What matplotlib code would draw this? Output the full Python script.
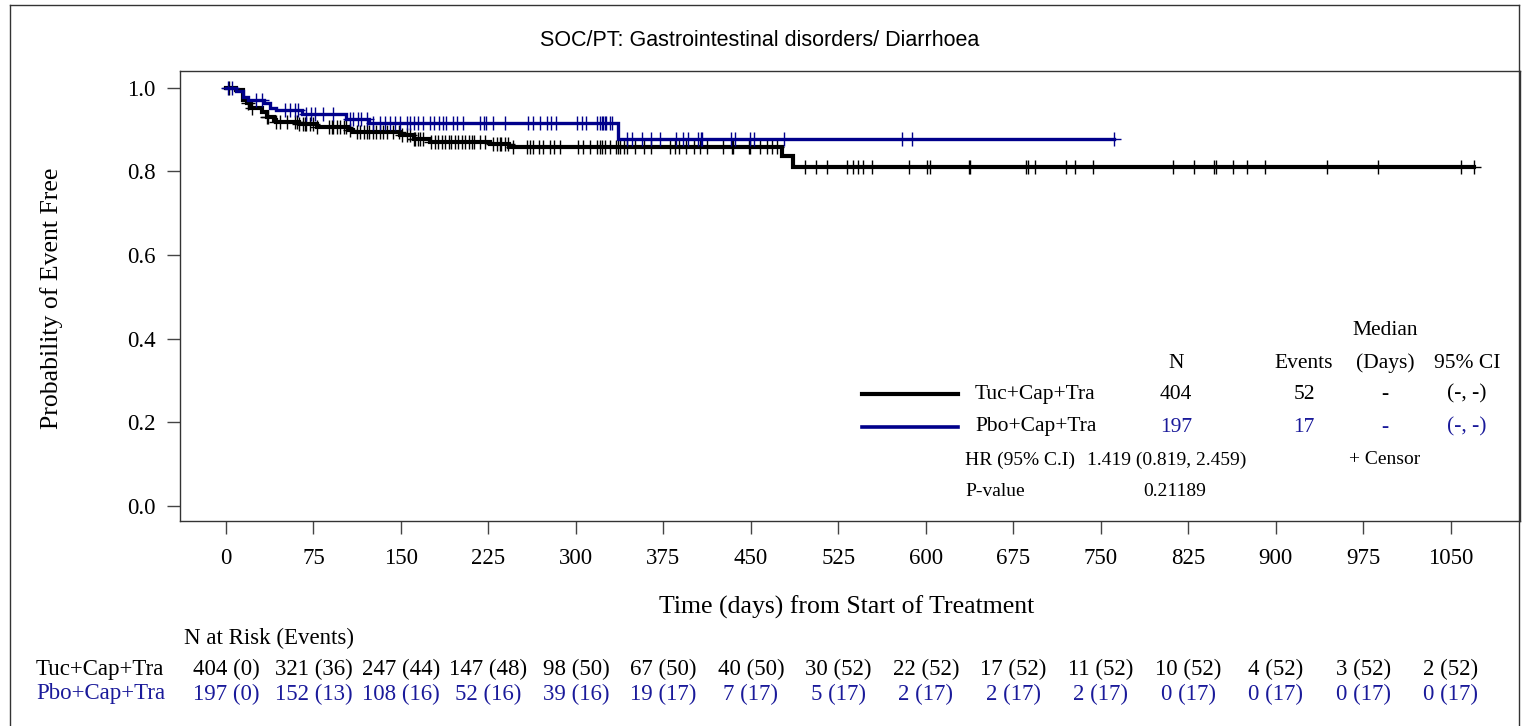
import numpy as np
import matplotlib.pyplot as plt
import matplotlib.transforms as mtrans
from matplotlib.lines import Line2D

plt.rcParams['font.family'] = ['Liberation Serif', 'DejaVu Serif']

# KM steps: (day, survival after the drop)
tuc_time = [0, 9, 15, 18, 21, 31, 35, 41, 43, 63, 78, 105, 109, 149, 161, 175, 226, 243, 477, 486]
tuc_surv = [1.0, 0.994, 0.970, 0.962, 0.950, 0.942, 0.930, 0.922, 0.918, 0.912, 0.905,
            0.898, 0.894, 0.886, 0.878, 0.870, 0.865, 0.858, 0.836, 0.810]
tuc_last = 1070
pbo_time = [0, 9, 15, 19, 33, 38, 43, 65, 103, 123, 336]
pbo_surv = [1.0, 0.992, 0.978, 0.971, 0.962, 0.952, 0.946, 0.937, 0.924, 0.916, 0.876]
pbo_last = 761

# censored times
tuc_cens = [3, 19, 22, 35, 36, 43, 46, 52, 59, 61, 63, 66, 68, 69, 72, 75, 78, 88, 91, 92, 95, 98,
            101, 103, 106, 112, 115, 118, 121, 123, 126, 129, 132, 135, 138, 143, 148, 151, 155,
            158, 161, 162, 165, 166, 169, 176, 179, 182, 185, 188, 191, 193, 196, 199, 202, 205,
            208, 211, 213, 218, 222, 229, 232, 235, 236, 239, 242, 246, 258, 261, 263, 268, 272,
            278, 281, 286, 302, 306, 312, 318, 321, 322, 325, 329, 334, 336, 338, 341, 344, 351,
            358, 364, 381, 385, 388, 394, 401, 406, 412, 426, 434, 435, 448, 449, 458, 464, 468,
            472, 496, 506, 515, 532, 538, 542, 546, 554, 586, 601, 604, 637, 638, 686, 688, 694,
            720, 728, 743, 812, 830, 847, 849, 863, 875, 891, 944, 988, 1059, 1070]
pbo_cens = [2, 5, 26, 31, 51, 55, 59, 62, 69, 73, 76, 83, 92, 106, 109, 113, 116, 121, 126, 132,
            136, 141, 145, 149, 155, 158, 161, 165, 169, 175, 178, 183, 186, 189, 195, 198, 203,
            218, 221, 223, 229, 239, 259, 263, 269, 275, 279, 283, 301, 305, 309, 318, 321, 322,
            323, 325, 326, 329, 331, 344, 348, 357, 364, 372, 386, 392, 396, 405, 407, 408, 433,
            436, 449, 453, 478, 580, 588, 761]

# numbers at risk (events)
risk_days = [0, 75, 150, 225, 300, 375, 450, 525, 600, 675, 750, 825, 900, 975, 1050]
tuc_risk = [404, 321, 247, 147, 98, 67, 40, 30, 22, 17, 11, 10, 4, 3, 2]
tuc_ev = [0, 36, 44, 48, 50, 50, 50, 52, 52, 52, 52, 52, 52, 52, 52]
pbo_risk = [197, 152, 108, 52, 39, 19, 7, 5, 2, 2, 2, 0, 0, 0, 0]
pbo_ev = [0, 13, 16, 16, 16, 17, 17, 17, 17, 17, 17, 17, 17, 17, 17]

black = 'black'
blue = '#00008B'
tblue = '#1a1a9a'

W, H = 1524, 726
def fx(px):
    return px / W
def fy(py):
    return 1 - py / H

fig = plt.figure(figsize=(15.24, 7.26), dpi=100)
ax = fig.add_axes([fx(180), fy(521), fx(1520) - fx(180), fy(71) - fy(521)])

def km(ax, t, s, last, cens, col, lw):
    xs = list(t) + [last]
    ys = list(s) + [s[-1]]
    ax.step(xs, ys, where='post', color=col, lw=lw, solid_joinstyle='miter')
    idx = np.searchsorted(np.array(t), np.array(cens), side='right') - 1
    cy = np.array(s)[idx]
    ax.plot(cens, cy, ls='none', marker='+', ms=10, mew=1.0, color=col)

km(ax, tuc_time, tuc_surv, tuc_last, tuc_cens, black, 3.0)
km(ax, pbo_time, pbo_surv, pbo_last, pbo_cens, blue, 2.4)

ax.set_xlim(-39.4, 1109.4)
ax.set_ylim(-0.036, 1.0395)
ax.set_xticks(risk_days)
ax.set_yticks([0.0, 0.2, 0.4, 0.6, 0.8, 1.0])
ax.set_yticklabels(['0.0', '0.2', '0.4', '0.6', '0.8', '1.0'])
ax.tick_params(direction='out', length=9.5, width=1.0, color='#444444', labelsize=16.5)
ax.tick_params(axis='x', pad=10)
ax.tick_params(axis='y', pad=8)
for sp in ax.spines.values():
    sp.set_color('#333333')
    sp.set_linewidth(1.0)

fig.text(fx(52), fy(298), 'Probability of Event Free', fontsize=18.5, rotation=90,
         ha='center', va='center')
fig.text(fx(847), fy(607), 'Time (days) from Start of Treatment', fontsize=18.5,
         ha='center', va='center')
fig.text(fx(760), fy(40), 'SOC/PT: Gastrointestinal disorders/ Diarrhoea',
         family=['Liberation Sans', 'DejaVu Sans'], fontsize=15.5, ha='center', va='center')

# legend table inside the axes
def tx(px, py, s, col='black', ha='center', size=15.5):
    fig.text(fx(px), fy(py), s, color=col, ha=ha, va='center', fontsize=size)

tx(1385, 330, 'Median')
tx(1176, 363, 'N')
tx(1304, 363, 'Events')
tx(1385, 363, '(Days)')
tx(1467, 363, '95% CI')
rows = [('Tuc+Cap+Tra', tuc_risk[0], tuc_ev[-1], black, black, 3.0, 394),
        ('Pbo+Cap+Tra', pbo_risk[0], pbo_ev[-1], blue, tblue, 2.6, 427)]
for name, n, ev, lc, tc, lw, py in rows:
    fig.add_artist(Line2D([fx(862), fx(958)], [fy(py), fy(py)], color=lc, lw=lw))
    tx(975, py, name, ha='left')
    tx(1176, py, str(n), tc)
    tx(1304, py, str(ev), tc)
    tx(1385, py, '-', tc)
    tx(1467, py, '(-, -)', tc)
tx(965, 460, 'HR (95% C.I)', ha='left', size=14)
tx(1087, 460, '1.419 (0.819, 2.459)', ha='left', size=14)
tx(1385, 460, '+ Censor', size=14)
tx(965, 491, 'P-value', ha='left', size=14)
tx(1143, 491, '0.21189', ha='left', size=14)

# number at risk table
tx(184, 638, 'N at Risk (Events)', ha='left', size=16.5)
rt = mtrans.blended_transform_factory(ax.transData, fig.transFigure)
for name, nr, ne, col, py in [('Tuc+Cap+Tra', tuc_risk, tuc_ev, black, 669),
                              ('Pbo+Cap+Tra', pbo_risk, pbo_ev, tblue, 694)]:
    tx(36, py, name, col, ha='left', size=16.5)
    for d, r, e in zip(risk_days, nr, ne):
        ax.text(d, fy(py), f'{r} ({e})', transform=rt, ha='center', va='center',
                color=col, fontsize=16.5, clip_on=False)

# outer frame
for xs, ys in [([10, 10], [5, H]), ([10, 1519], [5, 5]), ([1519, 1519], [5, H])]:
    fig.add_artist(Line2D([fx(v) for v in xs], [fy(v) for v in ys], color='#333333', lw=1.0))

fig.savefig('out.png', dpi=100)
